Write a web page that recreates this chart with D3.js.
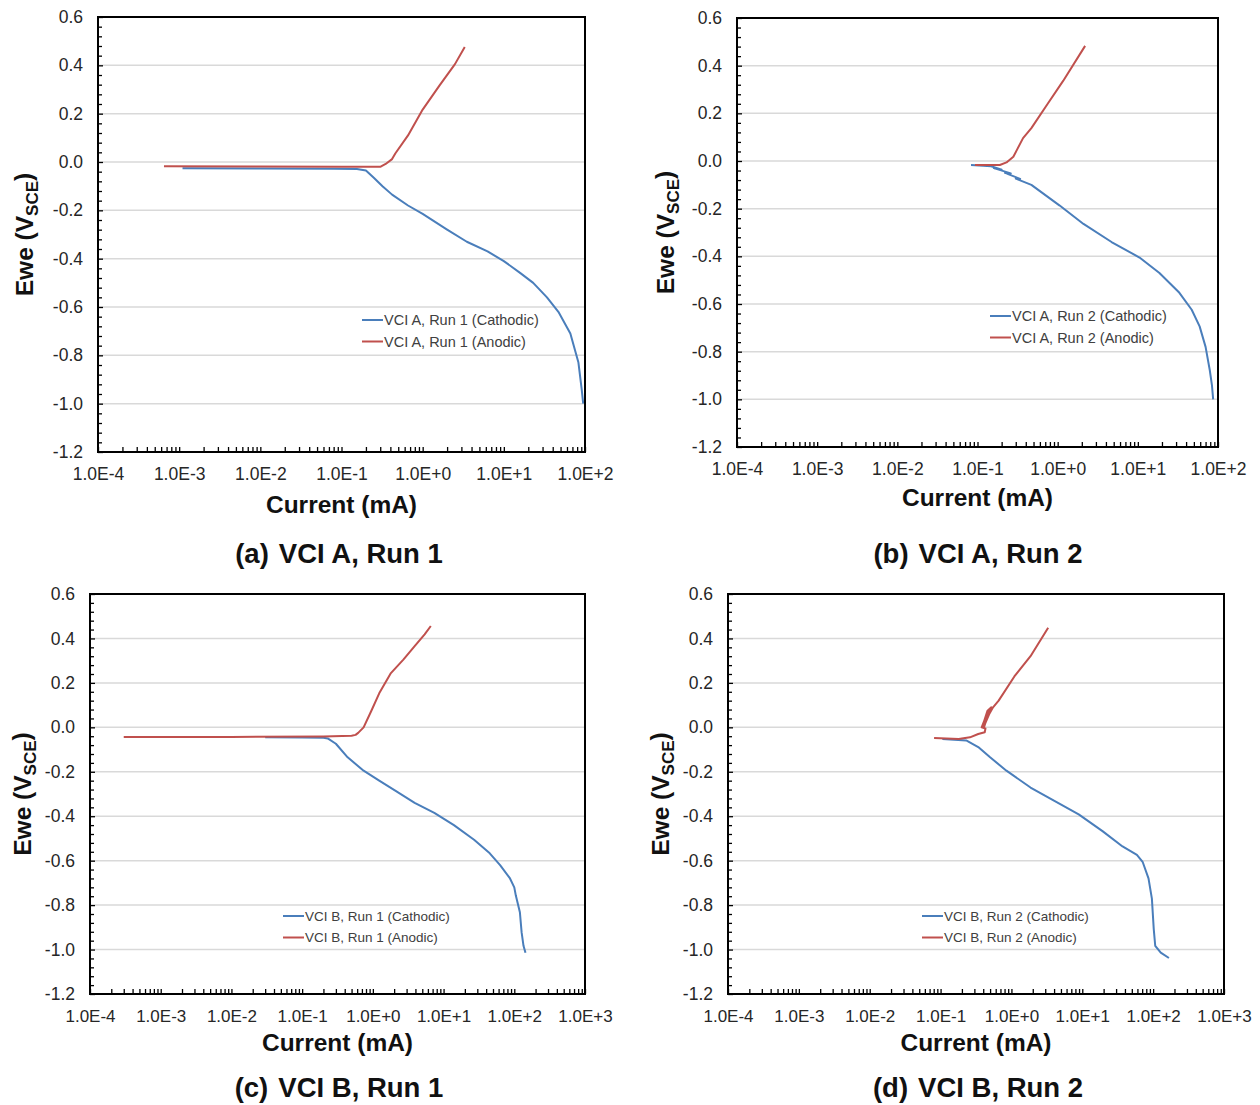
<!DOCTYPE html>
<html>
<head>
<meta charset="utf-8">
<script src="https://cdnjs.cloudflare.com/ajax/libs/d3/7.8.5/d3.min.js"></script>
<title>Polarization curves, VCI A and VCI B</title>
<style>
	body { margin: 0; background: #fff; }
	svg { font-family: "Liberation Sans", Arial, sans-serif; }
	.tick text { fill: #262626; font-size: 17.5px; }
	.tick line { stroke: #000; stroke-width: 1.3px; }
	.domain { display: none; }
	.grid { stroke: #d9d9d9; stroke-width: 1.5px; }
	.frame { fill: none; stroke: #000; stroke-width: 2px; }
	.curve { fill: none; stroke-width: 2px; stroke-linejoin: round; }
	.legtext { fill: #404040; }
	.axtitle { font-weight: bold; font-size: 24.5px; fill: #111; }
	.subtitle { font-weight: bold; font-size: 27.5px; fill: #111; }
</style>
</head>
<body>
<svg width="1260" height="1105"></svg>
<script>
// data: [current (mA), Ewe (V SCE)]
var a_cath = [[1.1e-3,-0.026],[0.01,-0.027],[0.08,-0.028],[0.155,-0.029],[0.2,-0.035],[0.25,-0.065],[0.32,-0.1],[0.42,-0.135],[0.66,-0.18],[1.0,-0.215],[2.0,-0.28],[3.5,-0.33],[6.3,-0.37],[10,-0.41],[16,-0.46],[23,-0.5],[34,-0.56],[47,-0.62],[66,-0.71],[83,-0.83],[91,-0.94],[95,-1.0]];
var a_anod = [[6.5e-4,-0.018],[0.01,-0.019],[0.1,-0.02],[0.3,-0.02],[0.35,-0.008],[0.42,0.012],[0.46,0.035],[0.66,0.11],[1.0,0.217],[1.6,0.315],[2.5,0.405],[3.3,0.476]];
var b_cath = [[0.083,-0.017],[0.148,-0.022],[0.2,-0.036],[0.16,-0.03],[0.26,-0.052],[0.22,-0.05],[0.34,-0.075],[0.3,-0.074],[0.47,-0.1],[1.05,-0.186],[2.1,-0.264],[4.7,-0.34],[10.5,-0.405],[18.6,-0.47],[33,-0.553],[47,-0.624],[59,-0.694],[70,-0.78],[79,-0.878],[84,-0.94],[87,-1.0]];
var b_anod = [[0.093,-0.017],[0.19,-0.017],[0.23,-0.006],[0.28,0.018],[0.37,0.096],[0.47,0.138],[0.74,0.237],[1.17,0.336],[2.2,0.483]];
var c_cath = [[0.03,-0.045],[0.1,-0.046],[0.2,-0.047],[0.23,-0.05],[0.3,-0.074],[0.44,-0.135],[0.74,-0.195],[1.23,-0.24],[2.1,-0.286],[3.9,-0.34],[7.4,-0.385],[14,-0.44],[27,-0.506],[45,-0.567],[63,-0.62],[87,-0.68],[100,-0.72],[105,-0.756],[120,-0.832],[127,-0.923],[135,-0.983],[144,-1.014]];
var c_anod = [[3.0e-4,-0.044],[0.01,-0.043],[0.2,-0.041],[0.5,-0.038],[0.57,-0.034],[0.62,-0.025],[0.74,0.0],[0.96,0.077],[1.23,0.153],[1.8,0.244],[2.7,0.305],[3.9,0.365],[5.4,0.418],[6.6,0.456]];
var d_cath = [[0.106,-0.052],[0.23,-0.059],[0.34,-0.089],[0.5,-0.135],[0.85,-0.195],[1.86,-0.271],[4.1,-0.332],[8.9,-0.392],[19.5,-0.468],[37,-0.536],[59,-0.574],[71,-0.605],[86,-0.68],[96,-0.771],[102,-0.908],[107,-0.983],[128,-1.014],[167,-1.038]];
var d_anod = [[0.081,-0.048],[0.18,-0.052],[0.26,-0.045],[0.34,-0.03],[0.42,-0.022],[0.43,-0.005],[0.38,0.0],[0.45,0.06],[0.52,0.09],[0.46,0.075],[0.39,0.005],[0.41,0.0],[0.48,0.07],[0.53,0.088],[0.43,0.02],[0.4,0.01],[0.5,0.08],[0.44,0.035],[0.55,0.09],[0.66,0.12],[1.1,0.229],[1.86,0.32],[3.3,0.448]];

var cath_labels = ['VCI A, Run 1 (Cathodic)', 'VCI A, Run 2 (Cathodic)', 'VCI B, Run 1 (Cathodic)', 'VCI B, Run 2 (Cathodic)'];
var anod_labels = ['VCI A, Run 1 (Anodic)', 'VCI A, Run 2 (Anodic)', 'VCI B, Run 1 (Anodic)', 'VCI B, Run 2 (Anodic)'];
var letters = ['(a)', '(b)', '(c)', '(d)'];
var subtitles = ['VCI A, Run 1', 'VCI A, Run 2', 'VCI B, Run 1', 'VCI B, Run 2'];
var x_max_exp = [2, 2, 3, 3];
var y_ticks = [0.6, 0.4, 0.2, 0.0, -0.2, -0.4, -0.6, -0.8, -1.0, -1.2];

var cath_color = '#4a7ebb';
var anod_color = '#c0504d';

// plot boxes [left, top, right, bottom] and legend spot
var boxes = [[98, 17, 585, 452], [737, 18, 1218, 447], [90, 594, 585, 994], [728, 594, 1224, 994]];
var legends = [[362, 320, 14.5], [990, 316, 14.5], [283, 916, 13.5], [922, 916, 13.5]];
var sub_y = [553, 553, 1087, 1087];
var xtitle_y = [504, 497, 1042, 1042];
var ytitle_off = [74, 72, 68, 68];
var xtick_size = [17.5, 17.5, 17, 17];

var svg = d3.select('svg');
var series = [[a_cath, a_anod], [b_cath, b_anod], [c_cath, c_anod], [d_cath, d_anod]];

function fmt_exp(d) {
	var e = Math.round(Math.log10(d));
	return '1.0E' + (e >= 0 ? '+' : '-') + Math.abs(e);
}

for (var i = 0; i < 4; i++) {
	var b = boxes[i];
	var w = b[2] - b[0], h = b[3] - b[1];
	var g = svg.append('g').attr('transform', 'translate(' + b[0] + ',' + b[1] + ')');

	var x = d3.scaleLog().domain([1e-4, Math.pow(10, x_max_exp[i])]).range([0, w]);
	var y = d3.scaleLinear().domain([-1.2, 0.6]).range([h, 0]);

	var majors = d3.range(-4, x_max_exp[i] + 1).map(function(e) { return Math.pow(10, e); });
	var minors = [];
	majors.slice(0, -1).forEach(function(m) {
		for (var k = 2; k <= 9; k++) minors.push(m * k);
	});
	var yminors = d3.range(-1.2, 0.6001, 0.04).filter(function(v) {
		return Math.abs(Math.round(v * 5) - v * 5) > 1e-6;
	});

	// gridlines
	g.selectAll('.grid')
		.data(y_ticks.filter(function(v) { return v < 0.59 && v > -1.19; }))
		.enter().append('line')
			.attr('class', 'grid')
			.attr('x1', 0).attr('x2', w)
			.attr('y1', function(d) { return y(d); })
			.attr('y2', function(d) { return y(d); });

	// axes, ticks pointing inward
	g.append('g')
		.attr('transform', 'translate(0,' + h + ')')
		.call(d3.axisBottom(x).tickValues(majors).tickFormat(fmt_exp).tickSize(-5).tickPadding(16))
		.selectAll('text').style('font-size', xtick_size[i] + 'px');
	g.append('g')
		.attr('transform', 'translate(0,' + h + ')')
		.call(d3.axisBottom(x).tickValues(minors).tickFormat('').tickSize(-5));
	g.append('g')
		.call(d3.axisLeft(y).tickValues(y_ticks).tickFormat(function(d) { return d.toFixed(1); }).tickSize(-5).tickPadding(15));
	g.append('g')
		.call(d3.axisLeft(y).tickValues(yminors).tickFormat('').tickSize(-4));

	var line = d3.line()
		.x(function(d) { return x(d[0]); })
		.y(function(d) { return y(d[1]); });

	g.append('path').datum(series[i][0]).attr('class', 'curve').attr('stroke', cath_color).attr('d', line);
	g.append('path').datum(series[i][1]).attr('class', 'curve').attr('stroke', anod_color).attr('d', line);

	g.append('rect').attr('class', 'frame').attr('width', w).attr('height', h);

	// legend
	var lg = legends[i];
	[[cath_color, cath_labels[i]], [anod_color, anod_labels[i]]].forEach(function(item, j) {
		var ly = lg[1] + j * 21.5;
		svg.append('line')
			.attr('x1', lg[0]).attr('x2', lg[0] + 21)
			.attr('y1', ly).attr('y2', ly)
			.attr('stroke', item[0]).attr('stroke-width', 2);
		svg.append('text')
			.attr('class', 'legtext')
			.attr('x', lg[0] + 22).attr('y', ly)
			.attr('dy', '0.35em')
			.style('font-size', lg[2] + 'px')
			.text(item[1]);
	});

	// axis titles
	var cx = (b[0] + b[2]) / 2;
	svg.append('text')
		.attr('class', 'axtitle')
		.attr('x', cx).attr('y', xtitle_y[i])
		.attr('dy', '0.35em')
		.attr('text-anchor', 'middle')
		.text('Current (mA)');

	var yt = svg.append('text')
		.attr('class', 'axtitle')
		.attr('transform', 'translate(' + (b[0] - ytitle_off[i]) + ',' + ((b[1] + b[3]) / 2) + ') rotate(-90)')
		.attr('dy', '0.35em')
		.attr('text-anchor', 'middle');
	yt.append('tspan').text('Ewe (V');
	yt.append('tspan').attr('font-size', '17px').attr('dy', '0.3em').text('SCE');
	yt.append('tspan').attr('dy', '-0.22em').text(')');

	// panel caption
	var st = svg.append('text')
		.attr('class', 'subtitle')
		.attr('x', 339 + (i % 2) * 639).attr('y', sub_y[i])
		.attr('dy', '0.35em')
		.attr('text-anchor', 'middle');
	st.append('tspan').text(letters[i]);
	st.append('tspan').attr('dx', 10).text(subtitles[i]);
}
</script>
</body>
</html>
